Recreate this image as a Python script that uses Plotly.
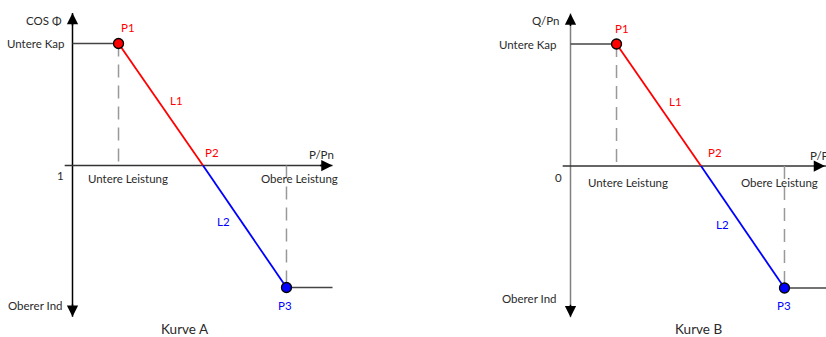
import plotly.graph_objects as go

# ---- data (conceptual units) ----
panels = ["Kurve A", "Kurve B"]
y_axis_titles = ["COS Φ", "Q/Pn"]
origin_labels = ["1", "0"]
point_names = ["P1", "P2", "P3"]
segment_names = ["L1", "L2"]
point_x = [0.177, 0.502, 0.823]      # P/Pn : Untere Leistung, crossing, Obere Leistung
point_y = [1.0, 0.0, -1.0]           # Untere Kap, axis, Oberer Ind
x_axis_extent = [-0.03, 1.0]
y_axis_extent = [-1.24, 1.25]
level_labels = ["Untere Kap", "Oberer Ind"]
power_labels = ["Untere Leistung", "Obere Leistung"]

# ---- layout geometry (pixels) ----
W, H = 826, 337
UX, UY = 260.0, 122.0
origins = [(72.5, 165.5), (570.5, 166.0)]
split = 413

RED = "#ff0000"
BLUE = "#0000ff"
TXT = "#2a2a2a"
FONT = "Lato"
FS = 11.5

fig = go.Figure()
annotations = []

for i in range(2):
    ox, oy = origins[i]
    if i == 0:
        d0, d1 = 0, split
    else:
        d0, d1 = split, W
    xr = [(d0 - ox) / UX, (d1 - ox) / UX]
    yr = [-(H - oy) / UY, oy / UY]
    xa = "x" if i == 0 else "x2"
    ya = "y" if i == 0 else "y2"
    lay_x = "xaxis" if i == 0 else "xaxis2"
    lay_y = "yaxis" if i == 0 else "yaxis2"
    fig.layout[lay_x] = dict(domain=[d0 / W, d1 / W], range=xr, visible=False,
                             fixedrange=True, anchor=ya)
    fig.layout[lay_y] = dict(domain=[0, 1], range=yr, visible=False,
                             fixedrange=True, anchor=xa)

    x1, x2, x3 = point_x
    y1, y2, y3 = point_y
    vcol = "#000000" if i == 0 else "#808080"

    def line(xs, ys, color, width=1.5, dash=None):
        fig.add_trace(go.Scatter(x=xs, y=ys, mode="lines",
                                 line=dict(color=color, width=width, dash=dash),
                                 xaxis=xa, yaxis=ya, hoverinfo="skip", showlegend=False))

    # axes lines
    line([0, 0], [y_axis_extent[0], y_axis_extent[1]], vcol)
    line([x_axis_extent[0], x_axis_extent[1]], [0, 0], "#333333")
    # dashed guides
    line([x1, x1], [y1, 0], "#999999", dash="13px,8px")
    line([x3, x3], [0, y3], "#999999", dash="13px,8px")
    # flat segments
    line([0, x1], [y1, y1], "#444444")
    line([x3, x_axis_extent[1]], [y3, y3], "#444444")
    # L1 / L2
    line([x1, x2], [y1, y2], RED, 1.8)
    line([x2, x3], [y2, y3], BLUE, 1.8)
    # points
    fig.add_trace(go.Scatter(x=[x1], y=[y1], mode="markers",
                             marker=dict(color=RED, size=10, line=dict(color="#000", width=1.3)),
                             xaxis=xa, yaxis=ya, hoverinfo="skip", showlegend=False))
    fig.add_trace(go.Scatter(x=[x3], y=[y3], mode="markers",
                             marker=dict(color=BLUE, size=10, line=dict(color="#000", width=1.3)),
                             xaxis=xa, yaxis=ya, hoverinfo="skip", showlegend=False))

    # arrow heads
    def head(xt, yt, tx, ty):
        annotations.append(dict(x=xt, y=yt, ax=tx, ay=ty, xref=xa, yref=ya,
                                axref="pixel", ayref="pixel", showarrow=True, arrowhead=2,
                                arrowsize=1.5, arrowwidth=1.5, arrowcolor="#000000",
                                text="", standoff=0))
    head(0, y_axis_extent[1], 0, 14)
    head(0, y_axis_extent[0], 0, -14)
    if i == 0:
        head(x_axis_extent[1], 0, -14, 0)
    else:
        # tip lies past the figure edge: anchor in paper units so it is still drawn (clipped)
        tip_px = ox + UX * x_axis_extent[1]
        annotations.append(dict(x=tip_px / W, y=1 - oy / H, ax=-14, ay=0,
                                xref="paper", yref="paper", axref="pixel", ayref="pixel",
                                showarrow=True, arrowhead=2, arrowsize=1.5, arrowwidth=1.5,
                                arrowcolor="#000000", text="", standoff=0))

    def label(text, xd, yd, dx, dy, color=TXT, size=FS, xanchor="center"):
        annotations.append(dict(x=xd, y=yd, xref=xa, yref=ya, text=text, showarrow=False,
                                xshift=dx, yshift=dy, xanchor=xanchor, yanchor="middle",
                                font=dict(family=FONT, size=size, color=color)))

    if i == 0:
        label(y_axis_titles[i], 0, y_axis_extent[1], -9, -7, xanchor="right")
        label(level_labels[0], 0, y1, -5.5, 0, xanchor="right")
        label(origin_labels[i], 0, 0, -12, -10)
        label(power_labels[0], x1, 0, 9.5, -12.5)
        label(power_labels[1], x3, 0, 13.5, -12.5)
        label("P/Pn", x3, 0, 35.5, 11.5)
        label(point_names[0], x1, y1, 9.5, 16.5, RED)
        label(segment_names[0], (x1 + x2) / 2, (y1 + y2) / 2, 16, 4.5, RED)
        label(point_names[1], x2, y2, 9, 13.5, RED)
        label(segment_names[1], (x2 + x3) / 2, (y2 + y3) / 2, -21, 5.5, BLUE)
        label(point_names[2], x3, y3, -1.5, -17.5, BLUE)
        label(level_labels[1], 0, y3, -7.5, -17.5, xanchor="right")
        label(panels[i], x2, y3, -18, -41, size=13.5)
    else:
        label(y_axis_titles[i], 0, y_axis_extent[1], -9, -6.5, xanchor="right")
        label(level_labels[0], 0, y1, -12, 0, xanchor="right")
        label(origin_labels[i], 0, 0, -12.5, -11)
        label(power_labels[0], x1, 0, 11, -16)
        label(power_labels[1], x3, 0, -5, -16)
        label("P/Pn", x3, 0, 24, 11, xanchor="left")
        label(point_names[0], x1, y1, 5.5, 16, RED)
        label(segment_names[0], (x1 + x2) / 2, (y1 + y2) / 2, 16.5, 4, RED)
        label(point_names[1], x2, y2, 13.5, 14, RED)
        label(segment_names[1], (x2 + x3) / 2, (y2 + y3) / 2, -20.5, 3, BLUE)
        label(point_names[2], x3, y3, 0, -17, BLUE)
        label(level_labels[1], 0, y3, -12, -10, xanchor="right")
        label(panels[i], x2, y3, -2.5, -40.5, size=13.5)

fig.update_layout(width=W, height=H, margin=dict(l=0, r=0, t=0, b=0),
                  paper_bgcolor="white", plot_bgcolor="white",
                  annotations=annotations, showlegend=False)
fig.write_html("out.html", config={"displayModeBar": False},
               post_script="document.body.style.margin='0';document.body.style.overflow='hidden';")
